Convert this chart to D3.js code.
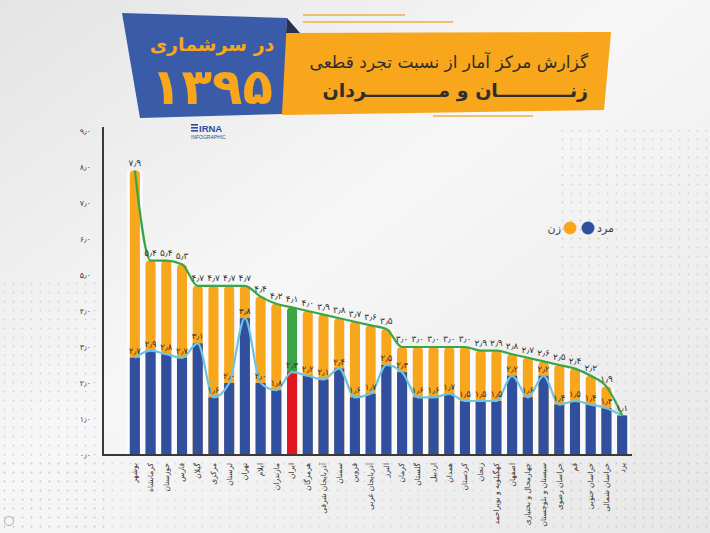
<!DOCTYPE html>
<html>
<head>
<meta charset="utf-8">
<script src="https://cdn.jsdelivr.net/npm/d3@7"></script>
<style>
  body { margin: 0; background: #ececec; }
  svg { display: block; font-family: "DejaVu Sans", sans-serif; }
</style>
</head>
<body>
<script>
// provinces, right to left in the original order
var provinces = ["بوشهر", "کرمانشاه", "خوزستان", "فارس", "گیلان", "مرکزی", "لرستان", "تهران",
  "ایلام", "مازندران", "ایران", "هرمزگان", "آذربایجان شرقی", "سمنان", "قزوین", "آذربایجان غربی",
  "البرز", "کرمان", "گلستان", "اردبیل", "همدان", "کردستان", "زنجان", "کهگیلویه و بویراحمد",
  "اصفهان", "چهارمحال و بختیاری", "سیستان و بلوچستان", "خراسان رضوی", "قم", "خراسان جنوبی",
  "خراسان شمالی", "یزد"];
var women = [7.9, 5.4, 5.4, 5.3, 4.7, 4.7, 4.7, 4.7, 4.4, 4.2, 4.1, 4.0, 3.9, 3.8, 3.7, 3.6,
  3.5, 3.0, 3.0, 3.0, 3.0, 3.0, 2.9, 2.9, 2.8, 2.7, 2.6, 2.5, 2.4, 2.2, 1.9, 1.1];
var men = [2.7, 2.9, 2.8, 2.7, 3.1, 1.6, 2.0, 3.8, 2.0, 1.8, 2.3, 2.2, 2.1, 2.4, 1.6, 1.7,
  2.5, 2.3, 1.6, 1.6, 1.7, 1.5, 1.5, 1.5, 2.2, 1.6, 2.2, 1.4, 1.5, 1.4, 1.3, 1.1];
var yTicks = [0, 1, 2, 3, 4, 5, 6, 7, 8, 9];
var legendItems = ["مرد", "زن"];

var w = 710, h = 533;
var orange = "#f8a61b", blue = "#30509f", green = "#3ba546", red = "#e3161d", lightBlue = "#6cc3e4";

var data = provinces.map(function(p, i) {
  return { name: p, women: women[i], men: men[i], total: p == "ایران" };
});

function fa(n) {
  return n.toFixed(1).replace(".", "٫").replace(/\d/g, function(d) { return "۰۱۲۳۴۵۶۷۸۹"[d]; });
}

var svg = d3.select("body").append("svg").attr("width", w).attr("height", h);
var defs = svg.append("defs");

// background
var bg = defs.append("linearGradient").attr("id", "bg").attr("x1", 0).attr("y1", 0).attr("x2", 1).attr("y2", 1);
bg.append("stop").attr("offset", "0").attr("stop-color", "#e4e4e4");
bg.append("stop").attr("offset", "0.45").attr("stop-color", "#f7f7f7");
bg.append("stop").attr("offset", "1").attr("stop-color", "#e7e7e7");
var dots = defs.append("pattern").attr("id", "dots").attr("width", 9).attr("height", 9).attr("patternUnits", "userSpaceOnUse");
dots.append("circle").attr("cx", 4.5).attr("cy", 4.5).attr("r", 0.9).attr("fill", "#c9c9c9");

svg.append("rect").attr("width", w).attr("height", h).attr("fill", "url(#bg)");
svg.append("rect").attr("x", 0).attr("y", 280).attr("width", 110).attr("height", 253).attr("fill", "url(#dots)").attr("opacity", 0.8);
svg.append("rect").attr("x", 560).attr("y", 130).attr("width", 150).attr("height", 403).attr("fill", "url(#dots)").attr("opacity", 0.8);
svg.append("rect").attr("x", 0).attr("y", 455).attr("width", 710).attr("height", 78).attr("fill", "url(#dots)").attr("opacity", 0.6);

// header decoration lines
var deco = [[303, 405, 15], [303, 453, 22], [433, 533, 116]];
svg.selectAll(".deco").data(deco).enter().append("line")
  .attr("x1", function(d) { return d[0]; }).attr("x2", function(d) { return d[1]; })
  .attr("y1", function(d) { return d[2]; }).attr("y2", function(d) { return d[2]; })
  .attr("stroke", "#e8b04a").attr("stroke-width", 1.5);

// orange banner
svg.append("polygon").attr("points", "282,33 611,32 604,110 282,115").attr("fill", orange);
// blue tag
svg.append("polygon").attr("points", "122,13 287,18 282,114 140,118").attr("fill", "#3a5ca8");
svg.append("polygon").attr("points", "287,18 300,33 286,33").attr("fill", "#2a2f52");

svg.append("text").attr("x", 212).attr("y", 51).attr("text-anchor", "middle")
  .attr("fill", orange).attr("font-size", 19).attr("font-weight", "bold").text("در سرشماری");
svg.append("text").attr("x", 212).attr("y", 104).attr("text-anchor", "middle")
  .attr("fill", orange).attr("font-size", 50).attr("font-weight", "bold").text("۱۳۹۵");

svg.append("text").attr("x", 588).attr("y", 68).attr("text-anchor", "end")
  .attr("fill", "#2e2e2e").attr("font-size", 17).text("گزارش مرکز آمار از نسبت تجرد قطعی");
svg.append("text").attr("x", 588).attr("y", 97).attr("text-anchor", "end")
  .attr("fill", "#2e2e2e").attr("font-size", 19).attr("font-weight", "bold").text("زنـــــــــــان و مـــــــــــردان");

// IRNA logo
var logo = svg.append("g").attr("transform", "translate(191,124)");
[0, 3, 6].forEach(function(o) {
  logo.append("rect").attr("x", 0).attr("y", o).attr("width", 7).attr("height", 1.6).attr("fill", "#2d4d9c");
});
logo.append("text").attr("x", 8).attr("y", 8).attr("fill", "#2d4d9c").attr("font-size", 9.5)
  .attr("font-weight", "bold").attr("font-family", "Liberation Sans, sans-serif").text("IRNA");
logo.append("text").attr("x", 0).attr("y", 15).attr("fill", "#2d4d9c").attr("font-size", 5)
  .attr("font-family", "Liberation Sans, sans-serif").text("INFOGRAPHIC");

// scales
var xScale = d3.scaleBand().domain(provinces).range([127, 630]).paddingInner(0.36).paddingOuter(0.18);
var yScale = d3.scaleLinear().domain([0, 9]).range([455, 131]);

// light column backs
svg.selectAll(".back").data(data).enter().append("rect")
  .attr("x", function(d) { return xScale(d.name) - xScale.step() * 0.18; })
  .attr("width", xScale.step())
  .attr("y", function(d) { return yScale(d.women); })
  .attr("height", function(d) { return yScale(0) - yScale(d.women); })
  .attr("fill", "#fbfcfe").attr("opacity", 0.85);

// women bars
svg.selectAll(".wbar").data(data).enter().append("path")
  .attr("d", function(d) {
    var x0 = xScale(d.name), bw = xScale.bandwidth(), y0 = yScale(d.women), r = 4;
    return "M" + x0 + "," + yScale(0) + "V" + (y0 + r) + "Q" + x0 + "," + y0 + " " + (x0 + r) + "," + y0 +
      "H" + (x0 + bw - r) + "Q" + (x0 + bw) + "," + y0 + " " + (x0 + bw) + "," + (y0 + r) + "V" + yScale(0) + "Z";
  })
  .attr("fill", function(d) { return d.total ? green : orange; });

// men bars
svg.selectAll(".mbar").data(data).enter().append("rect")
  .attr("x", function(d) { return xScale(d.name); })
  .attr("width", xScale.bandwidth())
  .attr("y", function(d) { return yScale(d.men); })
  .attr("height", function(d) { return yScale(0) - yScale(d.men); })
  .attr("fill", function(d) { return d.total ? red : blue; });

// trend lines
var cx = function(d) { return xScale(d.name) + xScale.bandwidth() / 2; };
var womenLine = d3.line().x(cx).y(function(d) { return yScale(d.women); }).curve(d3.curveMonotoneX);
var menLine = d3.line().x(cx).y(function(d) { return yScale(d.men); }).curve(d3.curveMonotoneX);

svg.append("path").attr("d", menLine(data)).attr("fill", "none").attr("stroke", lightBlue).attr("stroke-width", 2.2);
svg.append("path").attr("d", womenLine(data)).attr("fill", "none").attr("stroke", green).attr("stroke-width", 2.2);

// value labels
svg.selectAll(".wlab").data(data).enter().append("text")
  .attr("x", cx).attr("y", function(d) { return yScale(d.women) - 5; })
  .attr("text-anchor", "middle").attr("font-size", 9).attr("fill", "#333")
  .text(function(d) { return d.women == d.men ? "" : fa(d.women); });
svg.selectAll(".mlab").data(data).enter().append("text")
  .attr("x", cx).attr("y", function(d) { return yScale(d.men) - 4; })
  .attr("text-anchor", "middle").attr("font-size", 8.5).attr("fill", "#333")
  .text(function(d) { return fa(d.men); });

// axes
var yAxis = d3.axisLeft(yScale).tickValues(yTicks).tickSize(0).tickPadding(12).tickFormat(fa);
var gy = svg.append("g").attr("transform", "translate(103,0)").call(yAxis);
gy.select(".domain").remove();
gy.selectAll("text").attr("font-size", 8).attr("fill", "#444").attr("font-family", "DejaVu Sans, sans-serif");
svg.append("line").attr("x1", 103).attr("x2", 103).attr("y1", 127).attr("y2", 456)
  .attr("stroke", "#3a3a3a").attr("stroke-width", 2);

var xAxis = d3.axisBottom(xScale).tickSize(0).tickPadding(0);
var gx = svg.append("g").attr("transform", "translate(0,455)").call(xAxis);
gx.select(".domain").remove();
gx.selectAll("text")
  .attr("font-size", 7.5).attr("fill", "#333").attr("font-family", "DejaVu Sans, sans-serif")
  .attr("text-anchor", "end").attr("dy", "0.32em")
  .attr("transform", "translate(0,8) rotate(-90)").attr("x", 0).attr("y", 0);
svg.append("line").attr("x1", 102).attr("x2", 632).attr("y1", 455).attr("y2", 455)
  .attr("stroke", "#3a3a3a").attr("stroke-width", 2);

// legend
var legend = svg.append("g");
var lx = [588, 570];
legend.selectAll("circle").data(legendItems).enter().append("circle")
  .attr("cx", function(d, i) { return lx[i]; }).attr("cy", 228).attr("r", 6.5)
  .attr("fill", function(d, i) { return i == 0 ? blue : orange; });
legend.append("text").attr("x", 597).attr("y", 232).attr("font-size", 11).attr("fill", "#444").text(legendItems[0]);
legend.append("text").attr("x", 561).attr("y", 232).attr("text-anchor", "end").attr("font-size", 11).attr("fill", "#444").text(legendItems[1]);

// corner mark
svg.append("circle").attr("cx", 9).attr("cy", 521).attr("r", 4.5).attr("fill", "none").attr("stroke", "#999").attr("stroke-width", 0.8);
</script>
</body>
</html>
